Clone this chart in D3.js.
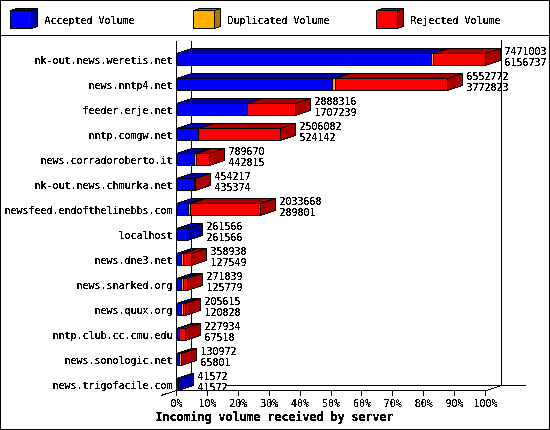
<!DOCTYPE html>
<html>
<head>
<meta charset="utf-8">
<script src="https://cdn.jsdelivr.net/npm/d3@7"></script>
<style>
  html, body { margin: 0; padding: 0; background: #fff; }
  svg { display: block; shape-rendering: crispEdges; }
  text { font-family: "DejaVu Sans Mono", "Liberation Mono", monospace; font-size: 11px; fill: #000; filter: url(#crisp); }
</style>
</head>
<body>
<div id="chart"></div>
<script>
const servers = ["nk-out.news.weretis.net", "news.nntp4.net", "feeder.erje.net", "nntp.comgw.net",
  "news.corradoroberto.it", "nk-out.news.chmurka.net", "newsfeed.endofthelinebbs.com", "localhost",
  "news.dne3.net", "news.snarked.org", "news.quux.org", "nntp.club.cc.cmu.edu", "news.sonologic.net",
  "news.trigofacile.com"];
const totals = [7471003, 6552772, 2888316, 2506082, 789670, 454217, 2033668, 261566, 358938, 271839, 205615, 227934, 130972, 41572];
const accepted = [6156737, 3772823, 1707239, 524142, 442815, 435374, 289801, 261566, 127549, 125779, 120828, 67518, 65801, 41572];
const duplicated = [45000, 75000, 0, 0, 45000, 0, 45000, 0, 45000, 45000, 45000, 0, 45000, 0];
const percentTicks = [0, 10, 20, 30, 40, 50, 60, 70, 80, 90, 100];
const legendNames = ["Accepted Volume", "Duplicated Volume", "Rejected Volume"];
const legendColors = ["#0000ff", "#ffb000", "#ff0000"];
const sideColors = ["#0000aa", "#aa7500", "#aa0000"];
const topColors = ["#0000aa", "#aa7500", "#aa0000"];

const width = 550, height = 430;
const dx = 15, dy = -5;
const barH = 12;

const svg = d3.select("#chart").append("svg").attr("width", width).attr("height", height);
const crisp = svg.append("defs").append("filter").attr("id", "crisp")
  .attr("x", "-5%").attr("y", "-20%").attr("width", "110%").attr("height", "140%");
crisp.append("feComponentTransfer").append("feFuncA").attr("type", "discrete").attr("tableValues", "0 1 1");

svg.append("rect").attr("x", 0.5).attr("y", 0.5).attr("width", width - 1).attr("height", height - 1)
  .attr("fill", "#fff").attr("stroke", "#000");
svg.append("line").attr("x1", 0).attr("x2", width).attr("y1", 35.5).attr("y2", 35.5).attr("stroke", "#000");

const x = d3.scaleLinear().domain([0, 100]).range([177, 486]);
const y = d3.scaleBand().domain(servers).range([47, 397]);
const pct = v => v / totals[0] * 100;

function poly(points, fill) {
  svg.append("polygon").attr("points", points.map(p => p.join(",")).join(" "))
    .attr("fill", fill).attr("stroke", "#000");
}

// all text is squeezed to the 6px cell of the original bitmap font
function label(tx, ty, str, anchor, cell) {
  const s = String(str);
  return svg.append("text").attr("x", tx).attr("y", ty).attr("text-anchor", anchor || "start")
    .attr("textLength", s.length * (cell || 6)).attr("lengthAdjust", "spacingAndGlyphs").text(s);
}

// legend
const legendX = [10, 193, 376];
legendNames.forEach((name, i) => {
  const lx = legendX[i];
  poly([[lx + 21.5, 10.5], [lx + 21.5, 28.5], [lx + 27.5, 26.5], [lx + 27.5, 8.5]], sideColors[i]);
  poly([[lx + 0.5, 10.5], [lx + 6.5, 8.5], [lx + 27.5, 8.5], [lx + 21.5, 10.5]], topColors[i]);
  svg.append("rect").attr("x", lx + 0.5).attr("y", 10.5).attr("width", 21).attr("height", 18)
    .attr("fill", legendColors[i]).attr("stroke", "#000");
  label(lx + 34.5, 24, name);
});

// walls
const frame = [
  [176.5, 41, 176.5, 390.5], [191.5, 41, 191.5, 385.5], [501.5, 40, 501.5, 385.5],
  [226, 385.5, 526, 385.5], [161, 395.5, 191.5, 385.5], [176.5, 390.5, 486.5, 390.5], [486.5, 390.5, 501.5, 385.5]
];
svg.selectAll("line.frame").data(frame).enter().append("line").attr("class", "frame")
  .attr("x1", d => d[0]).attr("y1", d => d[1]).attr("x2", d => d[2]).attr("y2", d => d[3]).attr("stroke", "#000");

// ticks
const ticks = svg.selectAll("g.tick").data(percentTicks).enter().append("g").attr("class", "tick");
ticks.append("line").attr("x1", d => Math.round(x(d)) - 0.5).attr("x2", d => Math.round(x(d)) - 0.5)
  .attr("y1", 390).attr("y2", 396).attr("stroke", "#000");
percentTicks.forEach(d => label(x(d) - 0.5, 407, d + "%", "middle"));

label(274.5, 421, "Incoming volume received by server", "middle", 7).style("font-weight", "bold").style("font-size", "12px");

// bars
servers.forEach((name, i) => {
  const top = y(name) + 6.5;
  const bottom = top + barH;
  const a = accepted[i], d = duplicated[i], t = totals[i];
  const stops = [[0, a, 0], [a, a + d, 1], [a + d, t, 2]].filter(s => s[1] > s[0]);
  const px = v => Math.round(x(pct(v))) - 0.5;
  stops.forEach(s => {
    poly([[px(s[0]), top], [px(s[0]) + dx, top + dy], [px(s[1]) + dx, top + dy], [px(s[1]), top]], topColors[s[2]]);
  });
  const last = stops[stops.length - 1];
  const xe = px(t);
  poly([[xe, top], [xe + dx, top + dy], [xe + dx, bottom + dy], [xe, bottom]], sideColors[last[2]]);
  stops.forEach(s => {
    svg.append("rect").attr("x", px(s[0])).attr("y", top).attr("width", px(s[1]) - px(s[0])).attr("height", barH)
      .attr("fill", legendColors[s[2]]).attr("stroke", "#000");
  });
  label(172.5, top + 10, name, "end");
  label(xe + dx + 4, top + 1, t);
  label(xe + dx + 4, top + 12, a);
});
</script>
</body>
</html>
